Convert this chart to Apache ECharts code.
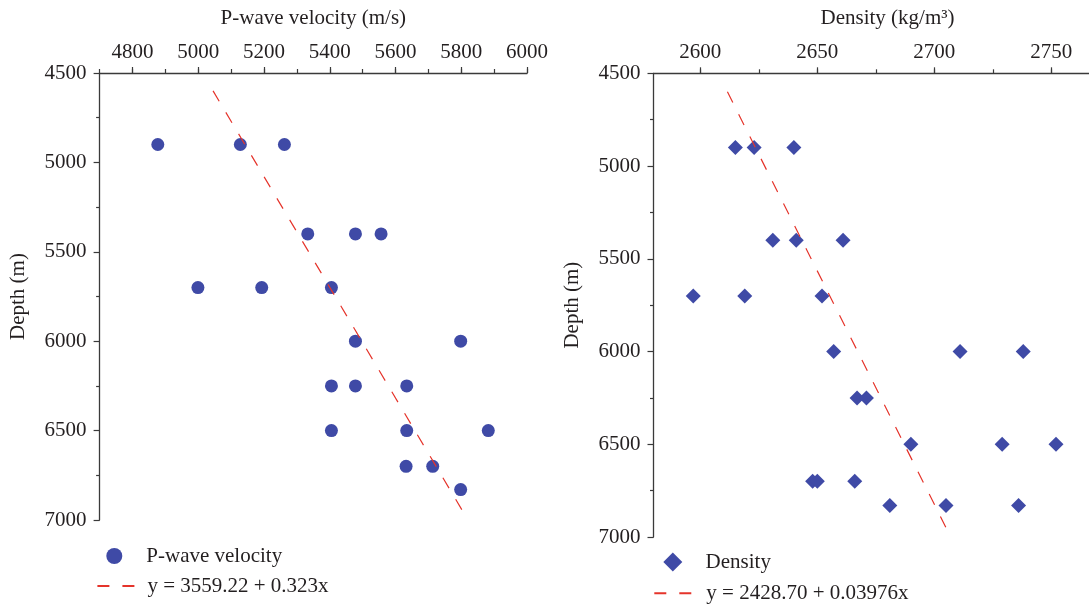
<!DOCTYPE html>
<html>
<head>
<meta charset="utf-8">
<script src="https://cdn.jsdelivr.net/npm/echarts@6/dist/echarts.min.js"></script>
<style>
  html, body { margin: 0; padding: 0; background: #ffffff; }
  #chart { width: 1089px; height: 608px; }
</style>
</head>
<body>
<div id="chart"></div>
<script>
// Measured depths (m) and P-wave velocities (m/s)
const velDepth = [4900, 4900, 4900, 5400, 5400, 5400, 5700, 5700, 5700, 6000, 6000,
                  6250, 6250, 6250, 6500, 6500, 6500, 6700, 6700, 6830];
const velocity = [4877, 5128, 5262, 5333, 5478, 5556, 4999, 5193, 5405, 5478, 5798,
                  5405, 5478, 5634, 5405, 5634, 5882, 5632, 5713, 5798];

// Measured depths (m) and densities (kg/m3)
const denDepth = [4900, 4900, 4900, 5400, 5400, 5400, 5700, 5700, 5700, 6000, 6000, 6000,
                  6250, 6250, 6500, 6500, 6500, 6700, 6700, 6700, 6830, 6830, 6830];
const density  = [2615, 2623, 2640, 2631, 2641, 2661, 2597, 2619, 2652, 2657, 2711, 2738,
                  2667, 2671, 2690, 2729, 2752, 2648, 2650, 2666, 2681, 2705, 2736];

// Linear fits: value = intercept + slope * depth, and the depth span drawn
const velFitCoef = [3559.22, 0.323];
const velFitDepth = [4600, 6980];
const denFitCoef = [2428.70, 0.03976];
const denFitDepth = [4600, 6990];

// Axis ticks and labels
const velLabels = [4800, 5000, 5200, 5400, 5600, 5800, 6000];
const velMinor = [4700, 4800, 4900, 5000, 5100, 5200, 5300, 5400, 5500, 5600, 5700, 5800, 5900, 6000];
const denLabels = [2600, 2650, 2700, 2750];
const denMinor = [2600, 2625, 2650, 2675, 2700, 2725, 2750, 2775];
const depthRange = [4500, 7000];

const velFitName = 'y = ' + velFitCoef[0].toFixed(2) + ' + ' + velFitCoef[1] + 'x';
const denFitName = 'y = ' + denFitCoef[0].toFixed(2) + ' + ' + denFitCoef[1] + 'x';

const FONT = 'Liberation Serif';
const TXT = '#231f20';
const AXIS = '#3a3a3a';
const BLUE = '#3f4aa6';
const RED = '#e5342b';

function zip(xs, ys) { return xs.map((x, i) => [x, ys[i]]); }
function fitLine(coef, depths) { return depths.map(d => [coef[0] + coef[1] * d, d]); }
const plain = v => String(v);

function mainX(grid, min, max, labels, name) {
  return {
    type: 'value', gridIndex: grid, position: 'top', min: min, max: max,
    name: name, nameLocation: 'middle', nameGap: 44,
    nameTextStyle: { fontFamily: FONT, fontSize: 21, color: TXT },
    axisLine: { show: true, onZero: false, lineStyle: { color: AXIS, width: 1.3 } },
    axisTick: { show: true, inside: false, length: 6, customValues: labels, lineStyle: { color: AXIS, width: 1.2 } },
    axisLabel: { show: true, margin: 10, customValues: labels, formatter: plain, fontFamily: FONT, fontSize: 21, color: TXT },
    splitLine: { show: false }
  };
}
function minorX(grid, min, max, ticks) {
  return {
    type: 'value', gridIndex: grid, position: 'top', min: min, max: max,
    axisLine: { show: false },
    axisTick: { show: true, length: 4, customValues: ticks, lineStyle: { color: AXIS, width: 1.2 } },
    axisLabel: { show: false },
    splitLine: { show: false }
  };
}
function depthY(grid) {
  return {
    type: 'value', gridIndex: grid, inverse: true, min: depthRange[0], max: depthRange[1], interval: 500,
    name: 'Depth (m)', nameLocation: 'middle', nameGap: 71,
    nameTextStyle: { fontFamily: FONT, fontSize: 21, color: TXT },
    axisLine: { show: true, onZero: false, lineStyle: { color: AXIS, width: 1.3 } },
    axisTick: { show: true, length: 6, lineStyle: { color: AXIS, width: 1.2 } },
    minorTick: { show: true, splitNumber: 2, length: 3.5, lineStyle: { color: AXIS, width: 1.2 } },
    axisLabel: { margin: 13, formatter: plain, fontFamily: FONT, fontSize: 21, color: TXT },
    splitLine: { show: false },
    minorSplitLine: { show: false }
  };
}
function legendItem(name, icon, left, centerY, itemWidth, itemHeight, padLeft) {
  const item = { name: name };
  if (icon) item.icon = icon;
  const lg = {
    data: [item], left: left, top: centerY - Math.max(11, itemHeight / 2), padding: 0,
    itemWidth: itemWidth, itemHeight: itemHeight, selectedMode: false,
    textStyle: { fontFamily: FONT, fontSize: 21, color: TXT, lineHeight: 22, padding: [0, 0, 0, padLeft] }
  };
  // fit-line entries show only the dashed stroke
  if (!icon) lg.itemStyle = { opacity: 0 };
  return lg;
}

const chart = echarts.init(document.getElementById('chart'), null, { renderer: 'canvas' });
chart.setOption({
  animation: false,
  backgroundColor: '#ffffff',
  grid: [
    { left: 99.6, top: 73, width: 427.5, height: 447, outerBoundsMode: 'none' },
    { left: 653.5, top: 73.3, width: 468, height: 463.7, outerBoundsMode: 'none' }
  ],
  xAxis: [
    mainX(0, 4700, 6000, velLabels, 'P-wave velocity (m/s)'),
    minorX(0, 4700, 6000, velMinor),
    mainX(1, 2580, 2780, denLabels, 'Density (kg/m\u00b3)'),
    minorX(1, 2580, 2780, denMinor)
  ],
  yAxis: [depthY(0), depthY(1)],
  legend: [
    legendItem('P-wave velocity', 'circle', 106.3, 556, 16, 16, 19),
    legendItem(velFitName, null, 96.4, 586, 37, 12, 8),
    legendItem('Density', 'diamond', 663.3, 562, 19, 19, 18.3),
    legendItem(denFitName, null, 653.3, 593.3, 39, 12, 8)
  ],
  series: [
    {
      name: 'P-wave velocity', type: 'scatter', xAxisIndex: 0, yAxisIndex: 0,
      symbol: 'circle', symbolSize: 13, itemStyle: { color: BLUE, opacity: 1 },
      data: zip(velocity, velDepth), z: 3
    },
    {
      name: velFitName, type: 'line', xAxisIndex: 0, yAxisIndex: 0,
      symbol: 'none', showSymbol: false,
      lineStyle: { color: RED, width: 1.2, type: [12, 13] }, itemStyle: { color: RED },
      data: fitLine(velFitCoef, velFitDepth), z: 4
    },
    {
      name: 'Density', type: 'scatter', xAxisIndex: 2, yAxisIndex: 1,
      symbol: 'diamond', symbolSize: [15, 15], itemStyle: { color: BLUE, opacity: 1 },
      data: zip(density, denDepth), z: 3
    },
    {
      name: denFitName, type: 'line', xAxisIndex: 2, yAxisIndex: 1,
      symbol: 'none', showSymbol: false,
      lineStyle: { color: RED, width: 1.2, type: [12, 13] }, itemStyle: { color: RED },
      data: fitLine(denFitCoef, denFitDepth), z: 4
    }
  ]
});
</script>
</body>
</html>
